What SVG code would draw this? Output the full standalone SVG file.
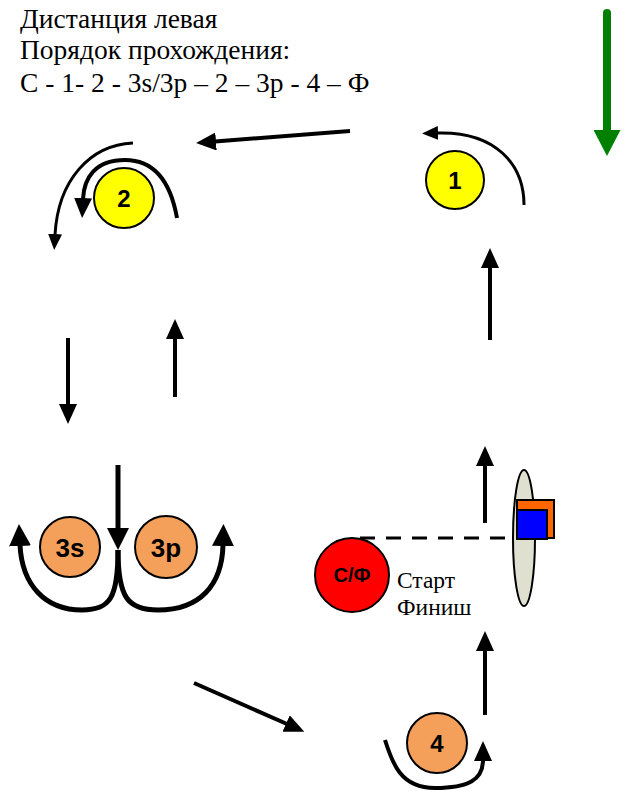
<svg xmlns="http://www.w3.org/2000/svg" width="627" height="791" viewBox="0 0 627 791">
<style>
.hdr{font-family:"Liberation Serif","Times New Roman",serif;font-size:27.5px;fill:#000}
.lbl{font-family:"Liberation Serif","Times New Roman",serif;font-size:23.5px;fill:#000}
.num{font-family:"Liberation Sans",Arial,sans-serif;font-weight:bold;font-size:24px;fill:#000;text-anchor:middle}
.y{fill:#ffff00;stroke:#000;stroke-width:2}
.o{fill:#f5a05a;stroke:#000;stroke-width:2}
.r{fill:#ff0000;stroke:#000;stroke-width:2}
.ln{fill:none;stroke:#000;stroke-width:4}
.lnT{fill:none;stroke:#000;stroke-width:3}
.lnB{fill:none;stroke:#000;stroke-width:5}
</style>
<defs>
<marker id="ah" markerUnits="userSpaceOnUse" viewBox="0 0 20 18" markerWidth="20" markerHeight="18" refX="1" refY="9" orient="auto"><path d="M0,0 L20,9 L0,18 z" fill="#000"/></marker>
<marker id="ahS" markerUnits="userSpaceOnUse" viewBox="0 0 16 14" markerWidth="16" markerHeight="14" refX="1" refY="7" orient="auto"><path d="M0,0 L16,7 L0,14 z" fill="#000"/></marker>
<marker id="ahL" markerUnits="userSpaceOnUse" viewBox="0 0 22 22" markerWidth="22" markerHeight="22" refX="1" refY="11" orient="auto"><path d="M0,0 L22,11 L0,22 z" fill="#000"/></marker>
<marker id="ahG" markerUnits="userSpaceOnUse" viewBox="0 0 26 27" markerWidth="26" markerHeight="27" refX="1" refY="13.5" orient="auto"><path d="M0,0 L26,13.5 L0,27 z" fill="#008000"/></marker>
</defs>

<g id="header">
<text class="hdr" x="20" y="28">Дистанция левая</text>
<text class="hdr" x="20" y="59">Порядок прохождения:</text>
<text class="hdr" x="20" y="92">С - 1- 2 - 3s/3p – 2 – 3p - 4 – Ф</text>
</g>

<g id="connectors">
<line x1="607" y1="13" x2="607" y2="131" stroke="#008000" stroke-width="8" stroke-linecap="round" marker-end="url(#ahG)"/>
<line class="ln" x1="350" y1="131" x2="215" y2="141.5" marker-end="url(#ah)"/>
<line class="ln" x1="490" y1="340" x2="490" y2="267" marker-end="url(#ah)"/>
<path class="lnT" d="M524,205 C524,165 496,131 437,133" marker-end="url(#ahS)"/>
<path class="ln" d="M177,218 C172,190 160,160 125,160 C95,160 84,178 83,199" marker-end="url(#ah)"/>
<path class="lnT" d="M133,143 C90,145 58,180 55,235" marker-end="url(#ahS)"/>
<line class="ln" x1="68" y1="338" x2="68" y2="405" marker-end="url(#ah)"/>
<line class="ln" x1="175" y1="397" x2="175" y2="338" marker-end="url(#ah)"/>
<line class="lnB" x1="118" y1="465" x2="118" y2="529" marker-end="url(#ahL)"/>
<path class="lnB" d="M118,550 C118,598 110,610 82,610 C45,610 22,585 20,545" marker-end="url(#ahL)"/>
<path class="lnB" d="M118,550 C118,598 128,610 158,610 C200,610 222,585 223,545" marker-end="url(#ahL)"/>
<line class="ln" x1="485" y1="523" x2="485" y2="465" marker-end="url(#ah)"/>
<line x1="360" y1="538" x2="512" y2="538" stroke="#000" stroke-width="3" stroke-dasharray="15 11"/>
<line class="ln" x1="485" y1="715" x2="485" y2="650" marker-end="url(#ah)"/>
<line class="ln" x1="194" y1="683" x2="287" y2="724" marker-end="url(#ah)"/>
<path class="ln" d="M385,740 C392,762 400,788 435,788 C468,788 483,780 483,760" marker-end="url(#ah)"/>
</g>

<g id="node-1"><circle class="y" cx="455" cy="180" r="29"/><text class="num" x="455" y="189">1</text></g>
<g id="node-2"><circle class="y" cx="124" cy="198" r="30"/><text class="num" x="124" y="207">2</text></g>
<g id="node-3s"><circle class="o" cx="70" cy="547" r="30"/><text class="num" x="70" y="557" style="font-size:26px">3s</text></g>
<g id="node-3p"><circle class="o" cx="166" cy="547" r="31"/><text class="num" x="166" y="557" style="font-size:26px">3p</text></g>
<g id="node-4"><circle class="o" cx="437" cy="743" r="30"/><text class="num" x="437" y="752">4</text></g>
<g id="node-sf"><circle class="r" cx="352" cy="575" r="37"/><text class="num" x="352" y="582" style="font-size:20px">С/Ф</text></g>
<g id="start-label">
<text class="lbl" x="397" y="588">Старт</text>
<text class="lbl" x="397" y="615">Финиш</text>
</g>
<g id="gate">
<ellipse cx="524" cy="538" rx="11" ry="68" fill="#dfe0d0" stroke="#000" stroke-width="2"/>
<rect x="517" y="500" width="37" height="38" fill="#ff6600" stroke="#000" stroke-width="2"/>
<rect x="517" y="510" width="30" height="29" fill="#0000ff" stroke="#000" stroke-width="2"/>
</g>
</svg>
